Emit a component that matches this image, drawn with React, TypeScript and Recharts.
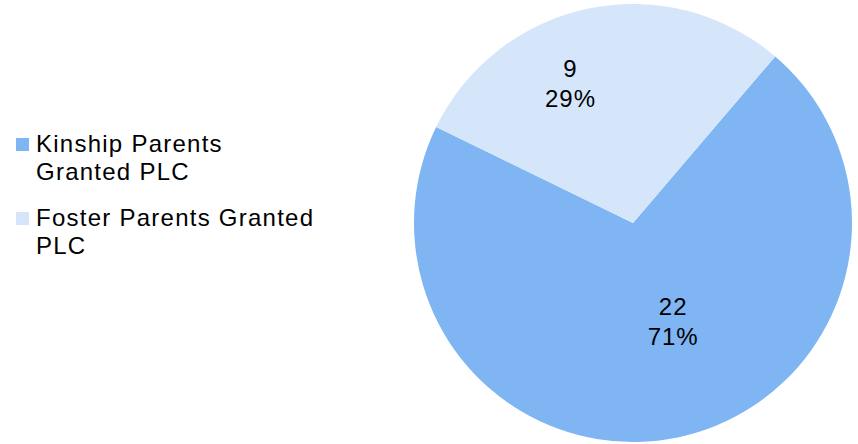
import React from "react";
import { PieChart, Pie, Cell } from "recharts";

const categories = ["Kinship Parents Granted PLC", "Foster Parents Granted PLC"];
const legendLines = [["Kinship Parents", "Granted PLC"], ["Foster Parents Granted", "PLC"]];
const values = [22, 9];
const percents = ["71%", "29%"];
const colors = ["#7EB5F2", "#D5E6FA"];

const data = categories.map((name, i) => ({ name, value: values[i] }));

const FONT = "'Liberation Sans', Arial, sans-serif";
const RAD = Math.PI / 180;
const labelTweak = [
  { r: 107, da: 10.3 },
  { r: 152, da: 12.5 },
];

const renderLabel = (props: any) => {
  const { cx, cy, midAngle, index } = props;
  const t = labelTweak[index];
  const a = (midAngle + t.da) * RAD;
  const x = cx + t.r * Math.cos(a);
  const y = cy - t.r * Math.sin(a);
  return (
    <text x={x} y={y} textAnchor="middle" fontFamily={FONT} fontSize={24} letterSpacing={1} fill="#000">
      <tspan x={x} dy={-7}>{values[index]}</tspan>
      <tspan x={x} dy={30}>{percents[index]}</tspan>
    </text>
  );
};

export default function App() {
  return (
    <div style={{ position: "absolute", left: 0, top: 0, width: 858, height: 444, background: "#fff" }}>
      <PieChart width={858} height={444} margin={{ top: 0, right: 0, bottom: 0, left: 0 }}>
        <Pie
          data={data}
          dataKey="value"
          nameKey="name"
          cx={633}
          cy={223}
          outerRadius={219}
          innerRadius={0}
          startAngle={49.5}
          endAngle={-310.5}
          stroke="none"
          label={renderLabel}
          labelLine={false}
          isAnimationActive={false}
        >
          {data.map((d, i) => (
            <Cell key={d.name} fill={colors[i]} />
          ))}
        </Pie>
      </PieChart>
      <div style={{ position: "absolute", left: 16, top: 130, fontFamily: FONT, fontSize: 24, letterSpacing: 1.25, color: "#000" }}>
        {legendLines.map((lines, i) => (
          <div key={i} style={{ display: "flex", alignItems: "flex-start", marginBottom: 18 }}>
            <div style={{ width: 13, height: 13, background: colors[i], marginTop: 8, marginRight: 7 }} />
            <div style={{ lineHeight: "28px" }}>
              {lines.map((l, j) => (
                <div key={j}>{l}</div>
              ))}
            </div>
          </div>
        ))}
      </div>
    </div>
  );
}
